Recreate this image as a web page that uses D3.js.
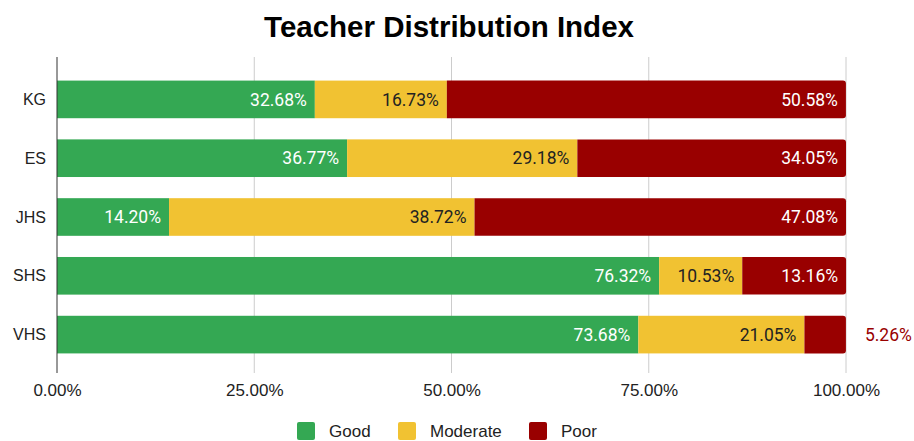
<!DOCTYPE html>
<html>
<head>
<meta charset="utf-8">
<script src="https://cdn.jsdelivr.net/npm/d3@7"></script>
<style>
  body { margin: 0; background: #fff; }
  svg { display: block; }
</style>
</head>
<body>
<svg id="SVG_CONTAINER" width="914" height="441"></svg>
<script>
const categories = ["KG", "ES", "JHS", "SHS", "VHS"];
const seriesNames = ["Good", "Moderate", "Poor"];
const good = [32.68, 36.77, 14.20, 76.32, 73.68];
const moderate = [16.73, 29.18, 38.72, 10.53, 21.05];
const poor = [50.58, 34.05, 47.08, 13.16, 5.26];
const xTicks = [0, 25, 50, 75, 100];

const colors = ["#34a853", "#f1c232", "#990000"];
const labelColors = ["#ffffff", "#222222", "#ffffff"];

const width = 914, height = 441;
const MARGIN = { LEFT: 57, RIGHT: 68, TOP: 70, BOTTOM: 77 };

let svg = d3.select("#SVG_CONTAINER");

//build rows for stacking
let rows = categories.map((c, i) => ({ cat: c, Good: good[i], Moderate: moderate[i], Poor: poor[i] }));
let stacked = d3.stack().keys(seriesNames)(rows);

//scales
let xScale = d3.scaleLinear().domain([0, 100]).range([MARGIN.LEFT, width - MARGIN.RIGHT]);
let yScale = d3.scaleBand().domain(categories).range([MARGIN.TOP, height - MARGIN.BOTTOM]).paddingInner(0.36).paddingOuter(0.18);

//title
svg.append("text")
    .attr("x", 449)
    .attr("y", 37)
    .attr("text-anchor", "middle")
    .style("font-family", "'Liberation Sans', Arial, sans-serif")
    .style("font-weight", "bold")
    .style("font-size", "29.5px")
    .text("Teacher Distribution Index");

//gridlines
let gridTop = 57, gridBottom = 373;
svg.append("g").selectAll("line")
    .data(xTicks.slice(1))
    .enter().append("line")
    .attr("x1", d => xScale(d)).attr("x2", d => xScale(d))
    .attr("y1", gridTop).attr("y2", gridBottom)
    .attr("stroke", "#cccccc").attr("stroke-width", 1);

//x tick labels
let xAxis = d3.axisBottom(xScale).tickValues(xTicks).tickFormat(d => d.toFixed(2) + "%").tickSize(0).tickPadding(0);
let xg = svg.append("g").attr("transform", "translate(0," + 384 + ")").call(xAxis);
xg.select(".domain").remove();
xg.selectAll("text")
    .style("font-family", "'Liberation Sans', Arial, sans-serif")
    .style("font-size", "17px")
    .attr("fill", "#222");

//bars
stacked.forEach((series, si) => {
    let g = svg.append("g");
    series.forEach((d, i) => {
        let x0 = xScale(d[0]), x1 = xScale(d[1]);
        let y0 = yScale(categories[i]), h = yScale.bandwidth();
        if (si === seriesNames.length - 1) {
            //rounded right end
            let r = 3;
            let p = "M" + x0 + "," + y0 + "H" + (x1 - r) + "Q" + x1 + "," + y0 + " " + x1 + "," + (y0 + r)
                + "V" + (y0 + h - r) + "Q" + x1 + "," + (y0 + h) + " " + (x1 - r) + "," + (y0 + h) + "H" + x0 + "Z";
            g.append("path").attr("d", p).attr("fill", colors[si]);
        } else {
            g.append("rect").attr("x", x0).attr("y", y0).attr("width", x1 - x0).attr("height", h).attr("fill", colors[si]);
        }
    });
});

//data labels
stacked.forEach((series, si) => {
    series.forEach((d, i) => {
        let v = d[1] - d[0];
        let x1 = xScale(d[1]);
        let segW = x1 - xScale(d[0]);
        let yc = yScale(categories[i]) + yScale.bandwidth() / 2;
        let inside = segW > 60;
        svg.append("text")
            .attr("x", inside ? x1 - 8 : x1 + 19)
            .attr("y", yc)
            .attr("dy", "0.35em")
            .attr("text-anchor", inside ? "end" : "start")
            .style("font-family", "Roboto, sans-serif")
            .style("font-size", "17.5px")
            .attr("fill", inside ? labelColors[si] : colors[si])
            .text(v.toFixed(2) + "%");
    });
});

//y axis line and labels
svg.append("line")
    .attr("x1", MARGIN.LEFT).attr("x2", MARGIN.LEFT)
    .attr("y1", gridTop).attr("y2", gridBottom)
    .attr("stroke", "#333").attr("stroke-width", 1);
svg.append("g").selectAll("text")
    .data(categories)
    .enter().append("text")
    .attr("x", 46)
    .attr("y", d => yScale(d) + yScale.bandwidth() / 2)
    .attr("dy", "0.35em")
    .attr("text-anchor", "end")
    .style("font-family", "'Liberation Sans', Arial, sans-serif")
    .style("font-size", "16px")
    .attr("fill", "#222")
    .text(d => d);

//legend
let legendX = [297, 398, 529];
let legend = svg.append("g");
seriesNames.forEach((s, i) => {
    legend.append("rect")
        .attr("x", legendX[i]).attr("y", 422)
        .attr("width", 18).attr("height", 18).attr("rx", 2)
        .attr("fill", colors[i]);
    legend.append("text")
        .attr("x", legendX[i] + 32).attr("y", 431)
        .attr("dy", "0.35em")
        .style("font-family", "'Liberation Sans', Arial, sans-serif")
        .style("font-size", "17px")
        .attr("fill", "#222")
        .text(s);
});
</script>
</body>
</html>
